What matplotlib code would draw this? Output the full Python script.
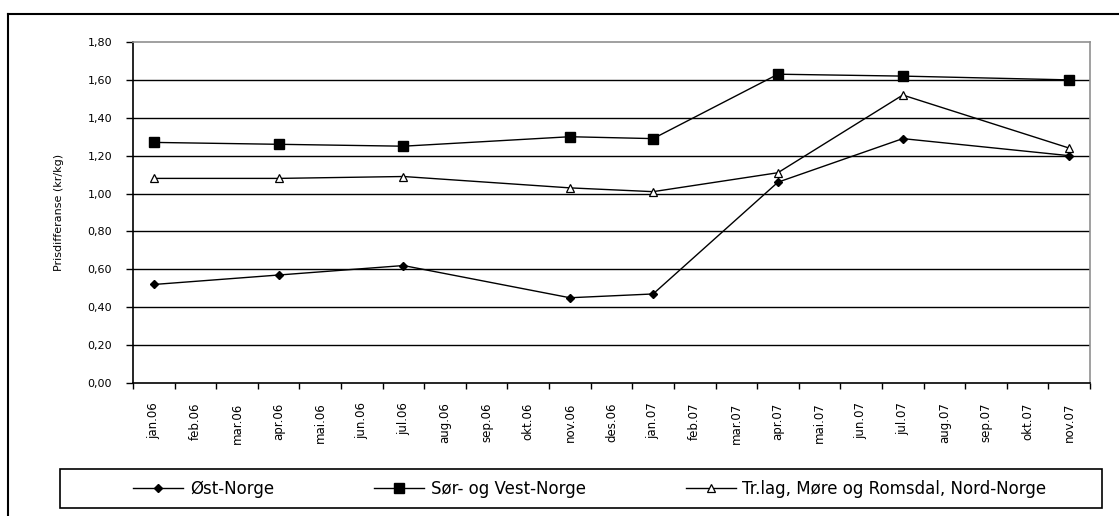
import matplotlib
matplotlib.use("Agg")
import matplotlib.pyplot as plt
from matplotlib.lines import Line2D
from matplotlib.patches import Rectangle
import numpy as np

plt.rcParams['font.family'] = ['DejaVu Sans']

months = ["jan.06", "feb.06", "mar.06", "apr.06", "mai.06", "jun.06", "jul.06",
          "aug.06", "sep.06", "okt.06", "nov.06", "des.06", "jan.07", "feb.07",
          "mar.07", "apr.07", "mai.07", "jun.07", "jul.07", "aug.07", "sep.07",
          "okt.07", "nov.07"]
obs_months = ["jan.06", "apr.06", "jul.06", "nov.06", "jan.07", "apr.07", "jul.07", "nov.07"]
ost_norge = [0.52, 0.57, 0.62, 0.45, 0.47, 1.06, 1.29, 1.20]
sor_vest = [1.27, 1.26, 1.25, 1.30, 1.29, 1.63, 1.62, 1.60]
trlag_nord = [1.08, 1.08, 1.09, 1.03, 1.01, 1.11, 1.52, 1.24]
yticks = [0.0, 0.2, 0.4, 0.6, 0.8, 1.0, 1.2, 1.4, 1.6, 1.8]

W, H = 1119, 516
fig = plt.figure(figsize=(W / 100, H / 100), dpi=100)
ax = fig.add_axes([133 / W, 1 - 383 / H, (1090 - 133) / W, (383 - 42) / H])

xpos = [months.index(m) for m in obs_months]

ax.plot(xpos, ost_norge, color='black', lw=1, marker='D', ms=4.5,
        mfc='black', mec='black', label='Øst-Norge', zorder=3)
ax.plot(xpos, sor_vest, color='black', lw=1, marker='s', ms=6.5,
        mfc='black', mec='black', label='Sør- og Vest-Norge', zorder=3)
ax.plot(xpos, trlag_nord, color='black', lw=1, marker='^', ms=6,
        mfc='white', mec='black', mew=0.9,
        label='Tr.lag, Møre og Romsdal, Nord-Norge', zorder=3)

ax.set_xlim(-0.5, len(months) - 0.5)
ax.set_ylim(0, 1.8)

for y in yticks[1:-1]:
    ax.axhline(y, color='black', lw=1, zorder=1)

ax.set_yticks(yticks)
ax.set_yticklabels([f"{v:.2f}".replace('.', ',') for v in yticks], fontsize=8)

ax.set_xticks(np.arange(-0.5, len(months) + 0.5, 1.0))
ax.set_xticklabels([])
ax.set_xticks(np.arange(len(months)), minor=True)
ax.set_xticklabels(months, minor=True, rotation=90, fontsize=8.5, va='top')
ax.tick_params(axis='x', which='minor', length=0, pad=14)
ax.tick_params(axis='x', which='major', length=4, width=1, direction='out', color='black')
ax.tick_params(axis='y', length=5, width=1, direction='out', pad=10)

for s in ['top', 'right']:
    ax.spines[s].set_color('#909090')
    ax.spines[s].set_linewidth(1.2)
for s in ['left', 'bottom']:
    ax.spines[s].set_color('black')
    ax.spines[s].set_linewidth(1.2)

ax.set_ylabel('Prisdifferanse (kr/kg)', fontsize=8)
ax.yaxis.set_label_coords((64 - 133) / (1090 - 133), 0.5)

# outer chart border (top and left only visible)
fig.add_artist(Line2D([8 / W, 1.0], [1 - 14 / H, 1 - 14 / H], color='black', lw=1.5))
fig.add_artist(Line2D([8 / W, 8 / W], [1 - 14 / H, 0], color='black', lw=1.5))

# legend box
fig.add_artist(Rectangle((60 / W, 1 - 508 / H), (1102 - 60) / W, 39 / H,
                         transform=fig.transFigure, fill=False,
                         edgecolor='black', lw=1.2))
leg = fig.legend(loc='center', ncol=3, fontsize=12,
                 bbox_to_anchor=(590 / W, 1 - 488.5 / H),
                 frameon=False, handlelength=3.0, handletextpad=0.4,
                 columnspacing=6.0, borderaxespad=0)

fig.savefig('out.png', dpi=100)
